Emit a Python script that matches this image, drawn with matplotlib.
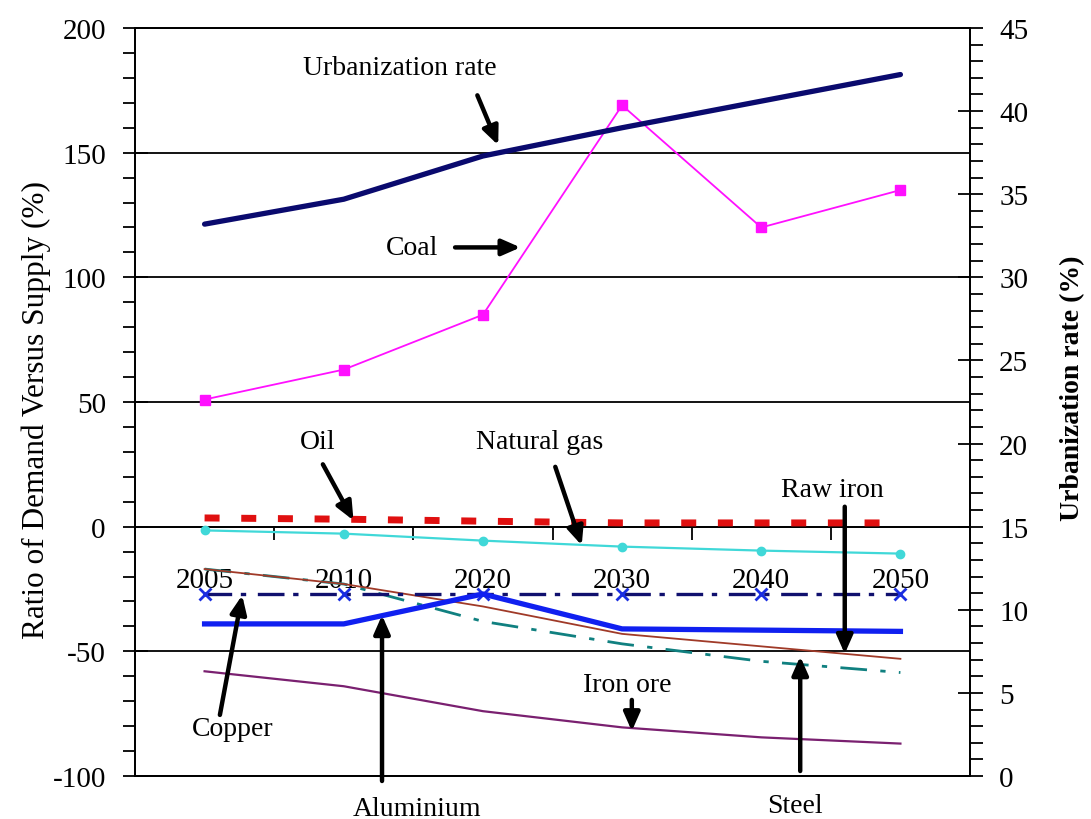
import matplotlib
matplotlib.use('Agg')
import matplotlib.pyplot as plt
from matplotlib.ticker import MultipleLocator, FixedLocator

# ---------------- data ----------------
years = ['2005', '2010', '2020', '2030', '2040', '2050']
urbanization = [33.2, 34.7, 37.3, 39.0, 40.6, 42.2]      # right axis (%)
coal = [51, 63, 85, 169, 120, 135]
oil = [3.5, 3.0, 2.2, 1.5, 1.5, 1.5]
natural_gas = [-1.5, -2.8, -5.6, -8.0, -9.6, -10.8]
copper = [-27, -27, -27, -27, -27, -27]
aluminium = [-39, -39, -27, -41, -41.5, -42]
raw_iron = [-17, -23, -32, -43, -48, -53]
steel = [-17, -23, -38, -47, -54, -58.5]
iron_ore = [-58, -64, -74, -80.5, -84.5, -87]

plt.rcParams['font.family'] = ['Liberation Serif', 'DejaVu Serif']
plt.rcParams['axes.unicode_minus'] = False

fig = plt.figure(figsize=(10.91, 8.2), dpi=100)
W, H = 1091, 820
ax = fig.add_axes([135 / W, 1 - 777 / H, (970 - 135) / W, (777 - 29) / H])
x = list(range(len(years)))
ax.set_xlim(-0.5, len(years) - 0.5)
ax.set_ylim(-100, 200)

for s in ax.spines.values():
    s.set_linewidth(1.3)

# grid lines
ax.yaxis.set_major_locator(MultipleLocator(50))
ax.yaxis.set_minor_locator(MultipleLocator(10))
ax.grid(axis='y', which='major', color='black', lw=1.3)
ax.tick_params(axis='y', which='major', direction='inout', length=18, width=1.3,
               labelsize=21, pad=12)
ax.tick_params(axis='y', which='minor', direction='out', length=9, width=1.3)
ax.tick_params(axis='x', which='both', bottom=False, labelbottom=False)

# category axis crossing at 0
sec = ax.secondary_xaxis(0, transform=ax.transData)
sec.set_xticks(x, years)
sec.xaxis.set_minor_locator(FixedLocator([i + 0.5 for i in x[:-1]]))
sec.tick_params(which='major', length=0, pad=29, labelsize=21)
sec.tick_params(which='minor', length=9, width=1.3, direction='out')
sec.spines['bottom'].set_linewidth(1.3)

# series on left axis
ax.plot(x, iron_ore, color='#7a2070', lw=1.6, zorder=3)
ax.plot(x, steel, color='#108080', lw=2.0, dashes=(9.6, 4.8, 1.9, 4.8), zorder=3)
ax.plot(x, raw_iron, color='#a03a28', lw=1.3, zorder=3)
ax.plot(x, copper, color='#10106e', lw=2.4, dashes=(8.0, 2.6, 1.6, 3.5),
        marker='x', ms=8, mew=2, mec='#1a2ee0', zorder=3)
ax.plot(x, aluminium, color='#1020f0', lw=3.8, zorder=4)
ax.plot(x, natural_gas, color='#40d8d8', lw=1.6, marker='o', ms=6, zorder=3)
ax.plot(x, oil, color='#e01010', lw=5, dashes=(2.16, 3.12), dash_capstyle='butt', zorder=3)
ax.plot(x, coal, color='#ff10ff', lw=1.3, marker='s', ms=7, zorder=3)

ax.set_ylabel('Ratio of Demand Versus Supply (%)', fontsize=22.5)
ax.yaxis.set_label_coords(-0.100, 0.49)

# right axis
ax2 = ax.twinx()
ax2.set_ylim(0, 45)
ax2.yaxis.set_major_locator(MultipleLocator(5))
ax2.yaxis.set_minor_locator(MultipleLocator(1))
ax2.tick_params(axis='y', which='major', direction='inout', length=18, width=1.3,
                labelsize=21, pad=12)
ax2.tick_params(axis='y', which='minor', direction='out', length=9, width=1.3)
for s in ax2.spines.values():
    s.set_linewidth(1.3)
ax2.plot(x, urbanization, color='#0a0a6e', lw=3.8, solid_capstyle='round', zorder=5)
ax2.set_ylabel('Urbanization rate (%)', fontsize=20, fontweight='bold')
ax2.yaxis.set_label_coords(1.108, 0.52)

# annotations (text + arrows), in left-axis data coordinates
arrow_kw = dict(arrowstyle='-|>,head_length=0.5,head_width=0.22', lw=3.2,
                color='black', mutation_scale=22, shrinkA=0, shrinkB=0)

def note(text, tpos, tail, tip):
    ax.text(tpos[0], tpos[1], text, fontsize=20, ha='center', va='center',
            clip_on=False, zorder=6)
    ax.annotate('', xy=tip, xytext=tail, arrowprops=arrow_kw,
                annotation_clip=False, zorder=6)

note('Urbanization rate', (1.40, 184), (1.96, 173), (2.11, 153))
note('Coal', (1.49, 112), (1.80, 112), (2.27, 112))
note('Oil', (0.81, 34), (0.85, 25), (1.07, 2.5))
note('Natural gas', (2.41, 34), (2.52, 24), (2.71, -7.5))
note('Raw iron', (4.51, 15), (4.60, 8), (4.60, -51))
note('Copper', (0.20, -81), (0.11, -75.5), (0.27, -27.5))
note('Aluminium', (1.53, -113), (1.275, -102), (1.275, -35.5))
note('Steel', (4.24, -112), (4.28, -98), (4.28, -52))
note('Iron ore', (3.04, -63.5), (3.07, -69.5), (3.07, -82))

fig.savefig('out.png', dpi=100)
